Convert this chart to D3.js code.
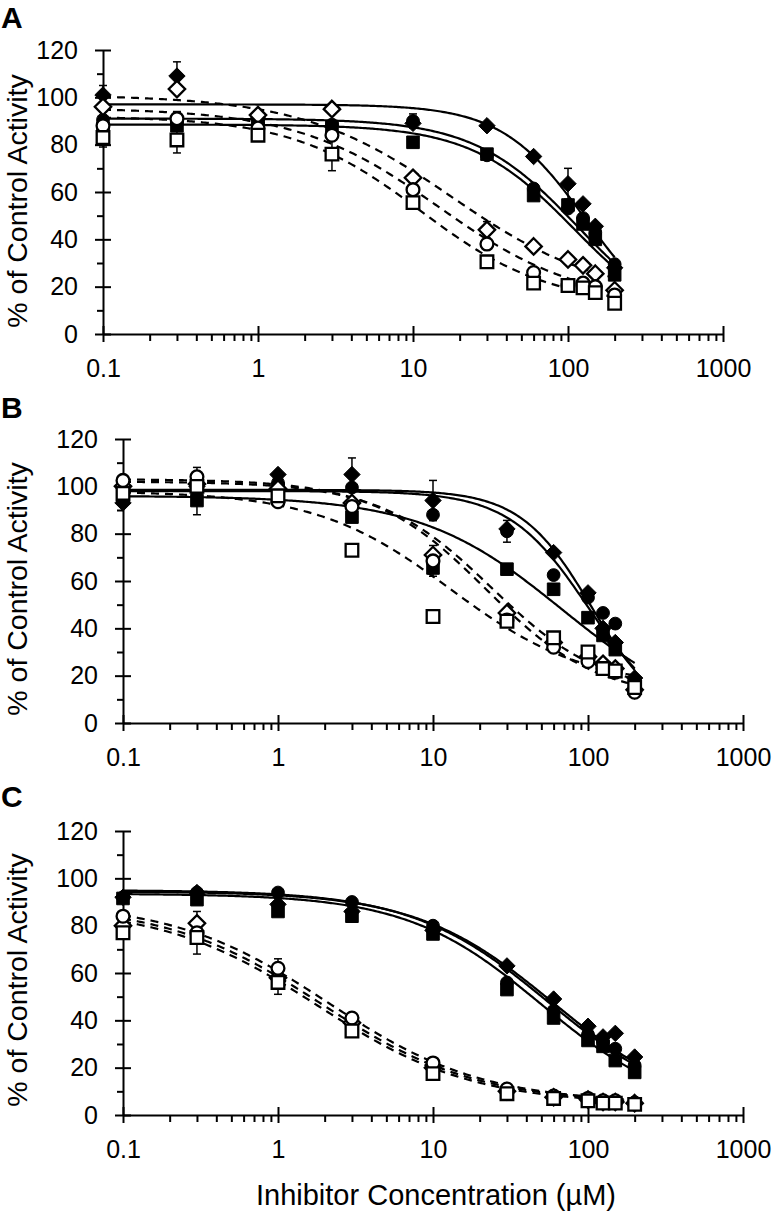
<!DOCTYPE html>
<html><head><meta charset="utf-8">
<script src="https://cdn.jsdelivr.net/npm/d3@7"></script>
<style>
body{margin:0;background:#fff}
svg{display:block}
text{font-family:"Liberation Sans",Arial,Helvetica,sans-serif;fill:#000}
</style>
</head><body>
<svg id="chart" width="773" height="1215"></svg>
<script>
// ---------------- DATA ----------------
const conc = [0.1, 0.3, 1, 3, 10, 30, 60, 100, 125, 150, 200];
const xMajorTicks = [0.1, 1, 10, 100, 1000];
const xTickLabels = ["0.1", "1", "10", "100", "1000"];
const yMajorTicks = [0, 20, 40, 60, 80, 100, 120];
const yMinorTicks = [10, 30, 50, 70, 90, 110];
const panelLabels = ["A", "B", "C"];
const seriesKinds = ["filledDiamond", "filledCircle", "filledSquare", "openDiamond", "openCircle", "openSquare"];

// Panel A
const A_filledDiamond = [101, 109, 91, 95.5, 89, 88, 75, 63.5, 55, 45.5, 28];
const A_filledCircle  = [90.5, 89, 89, 88.5, 90, 75.5, 61.5, 53, 49, 43, 29.5];
const A_filledSquare  = [87, 88, 88, 87.5, 81, 76, 58.5, 54.5, 46.5, 40, 25];
const A_openDiamond   = [96, 103.5, 92.5, 95, 66, 44, 37, 31.5, 29, 25.5, 18.5];
const A_openCircle    = [88, 91, 87, 84, 61, 38, 26, 20.5, 21.5, 20, 16.5];
const A_openSquare    = [83, 82, 84, 76, 55.5, 30.5, 21.5, 20.5, 19.5, 17.5, 13];
// Panel B
const B_filledDiamond = [93, 100, 105, 105, 94, 82, 72, 55, 40, 34, 19];
const B_filledCircle  = [98, 98, 101.5, 99.5, 88, 81, 62.5, 53, 46.5, 42, 17];
const B_filledSquare  = [96, 94, 99, 87, 65.5, 65, 56.5, 44.5, 37, 31, 17];
const B_openDiamond   = [100, 101, 99, 93, 71, 46.5, 34, 28, 25, 23, 14];
const B_openCircle    = [102.5, 104, 93.5, 91.5, 68.5, 43.5, 32, 26, 23, 21.5, 13];
const B_openSquare    = [97, 100, 96, 73, 45, 43, 36, 30, 23, 22, 15];
// Panel C
const C_filledDiamond = [92, 94, 89, 86, 78, 63, 49, 37.5, 33, 34.5, 24.5];
const C_filledCircle  = [92, 94, 94, 90, 80, 56, 44, 34, 31, 28, 21];
const C_filledSquare  = [91.5, 91, 86, 84, 76.5, 53, 41, 31.5, 29, 23, 18];
const C_openDiamond   = [80, 81, 58, 39, 20, 10, 7.5, 6.5, 5.5, 5.5, 5];
const C_openCircle    = [84, 77, 62, 41, 22, 11, 8, 7, 6, 6, 5];
const C_openSquare    = [77, 75, 56, 35.5, 17.5, 9, 7, 6, 5, 5, 4.5];

// Fitted dose-response parameters per series (same order as seriesKinds)
const A_fitTop    = [97, 91, 88.5, 101, 95.5, 92];
const A_fitBottom = [0, 0, 0, 15, 12, 12];
const A_fitIC50   = [130, 115, 110, 17.7, 14.6, 11.2];
const A_fitHill   = [1.6, 1.3, 1.3, 0.9, 0.95, 1.05];
const B_fitTop    = [98.5, 98, 96, 102, 103, 98];
const B_fitBottom = [0, 0, 0, 12, 10, 15];
const B_fitIC50   = [105, 100, 68, 24, 22, 13];
const B_fitHill   = [1.9, 1.7, 0.95, 1.2, 1.2, 1.0];
const C_fitTop    = [94.5, 95, 93.5, 89, 90, 88];
const C_fitBottom = [0, 0, 0, 5, 5, 4.5];
const C_fitIC50   = [60, 56, 50, 1.9, 2.1, 1.8];
const C_fitHill   = [0.98, 0.98, 1.0, 0.87, 0.87, 0.87];

// Error bars: [series index, concentration index, SD]
const A_errors = [[0,0,4],[0,1,6],[5,0,4],[5,1,5.5],[5,3,7],[1,4,3],[0,7,6.5],[3,5,3.5],[4,1,3]];
const B_errors = [[4,1,4],[2,1,6],[0,3,7],[0,4,8.5],[4,4,6.5],[1,5,4.6]];
const C_errors = [[3,1,5],[5,1,7],[5,2,5],[4,2,4]];

const xTitle = "Inhibitor Concentration (\u00B5M)";
const yTitle = "% of Control Activity";

// ---------------- LAYOUT ----------------
const panels = [
  {label: panelLabels[0], left: 103, top: 50, labelY: 28, titleY: 201,
   values: [A_filledDiamond, A_filledCircle, A_filledSquare, A_openDiamond, A_openCircle, A_openSquare],
   fit: {top: A_fitTop, bottom: A_fitBottom, ic50: A_fitIC50, hill: A_fitHill}, errors: A_errors},
  {label: panelLabels[1], left: 123, top: 439, labelY: 418, titleY: 589,
   values: [B_filledDiamond, B_filledCircle, B_filledSquare, B_openDiamond, B_openCircle, B_openSquare],
   fit: {top: B_fitTop, bottom: B_fitBottom, ic50: B_fitIC50, hill: B_fitHill}, errors: B_errors},
  {label: panelLabels[2], left: 123, top: 831, labelY: 807, titleY: 980,
   values: [C_filledDiamond, C_filledCircle, C_filledSquare, C_openDiamond, C_openCircle, C_openSquare],
   fit: {top: C_fitTop, bottom: C_fitBottom, ic50: C_fitIC50, hill: C_fitHill}, errors: C_errors}
];
const W = 620, H = 284;

const svg = d3.select("#chart");

function markerPath(kind) {
  if (kind.endsWith("Circle")) return d3.symbol().type(d3.symbolCircle).size(Math.PI * 6.4 * 6.4)();
  if (kind.endsWith("Square")) return "M-6.3,-6.3H6.3V6.3H-6.3Z";
  return "M0,-8.2L8.2,0L0,8.2L-8.2,0Z";
}

const xMinorTicks = [];
[0.1, 1, 10, 100].forEach(d => { for (let k = 2; k <= 9; k++) xMinorTicks.push(+(d * k).toPrecision(3)); });

panels.forEach(p => {
  const x = d3.scaleLog().domain([0.1, 1000]).range([0, W]);
  const y = d3.scaleLinear().domain([0, 120]).range([H, 0]);
  const g = svg.append("g").attr("transform", `translate(${p.left},${p.top})`);

  // panel label
  svg.append("text").attr("x", 1).attr("y", p.labelY)
    .attr("font-size", 30).attr("font-weight", "bold").text(p.label);

  // y title
  svg.append("text").attr("transform", `translate(27,${p.titleY}) rotate(-90)`)
    .attr("text-anchor", "middle").attr("font-size", 28.5).text(yTitle);

  // X axis minor
  const gxMin = g.append("g").attr("transform", `translate(0,${H})`)
    .call(d3.axisBottom(x).tickValues(xMinorTicks).tickSize(7).tickSizeOuter(0).tickFormat(""));
  gxMin.select(".domain").remove();
  // X axis major
  const gx = g.append("g").attr("transform", `translate(0,${H})`)
    .call(d3.axisBottom(x).tickValues(xMajorTicks).tickSize(8).tickSizeOuter(0).tickPadding(17)
      .tickFormat((d, i) => xTickLabels[i]));
  gx.selectAll(".tick line").attr("y1", -8);
  gx.selectAll(".tick text").attr("font-size", 25).attr("font-family", null);
  // Y axis minor
  const gyMin = g.append("g")
    .call(d3.axisLeft(y).tickValues(yMinorTicks).tickSize(6).tickSizeOuter(0).tickFormat(""));
  gyMin.select(".domain").remove();
  // Y axis major
  const gy = g.append("g")
    .call(d3.axisLeft(y).tickValues(yMajorTicks).tickSize(8).tickSizeOuter(0).tickPadding(17));
  gy.selectAll(".tick line").attr("x1", 8);
  gy.selectAll(".tick text").attr("font-size", 25).attr("font-family", null);
  g.selectAll(".domain, .tick line").attr("stroke", "#000").attr("stroke-width", 2);

  // fitted curves
  const samples = d3.range(0, 301).map(i => Math.pow(10, -1 + i * (Math.log10(200) + 1) / 300));
  const line = d3.line().x(d => x(d[0])).y(d => y(d[1])).curve(d3.curveLinear);
  seriesKinds.forEach((kind, s) => {
    const f = p.fit;
    const pts = samples.map(c => [c, f.bottom[s] + (f.top[s] - f.bottom[s]) / (1 + Math.pow(c / f.ic50[s], f.hill[s]))]);
    g.append("path").attr("d", line(pts)).attr("fill", "none").attr("stroke", "#000")
      .attr("stroke-width", 2.2).attr("stroke-dasharray", kind.startsWith("open") ? "8,6" : null);
  });

  // error bars
  p.errors.forEach(([s, i, sd]) => {
    const v = p.values[s][i], cx = x(conc[i]);
    g.append("line").attr("x1", cx).attr("x2", cx).attr("y1", y(v - sd)).attr("y2", y(v + sd))
      .attr("stroke", "#000").attr("stroke-width", 1.5);
    [v - sd, v + sd].forEach(e => g.append("line").attr("x1", cx - 4).attr("x2", cx + 4)
      .attr("y1", y(e)).attr("y2", y(e)).attr("stroke", "#000").attr("stroke-width", 1.5));
  });

  // markers: filled first, open on top
  seriesKinds.forEach((kind, s) => {
    const open = kind.startsWith("open");
    g.append("g").selectAll("path").data(p.values[s]).join("path")
      .attr("transform", (d, i) => `translate(${x(conc[i])},${y(d)})`)
      .attr("d", markerPath(kind))
      .attr("fill", open ? "#fff" : "#000")
      .attr("stroke", "#000").attr("stroke-width", open ? 2.3 : 1);
  });
});

// x title
svg.append("text").attr("x", 436).attr("y", 1205).attr("text-anchor", "middle")
  .attr("font-size", 29).text(xTitle);
</script>
</body></html>
